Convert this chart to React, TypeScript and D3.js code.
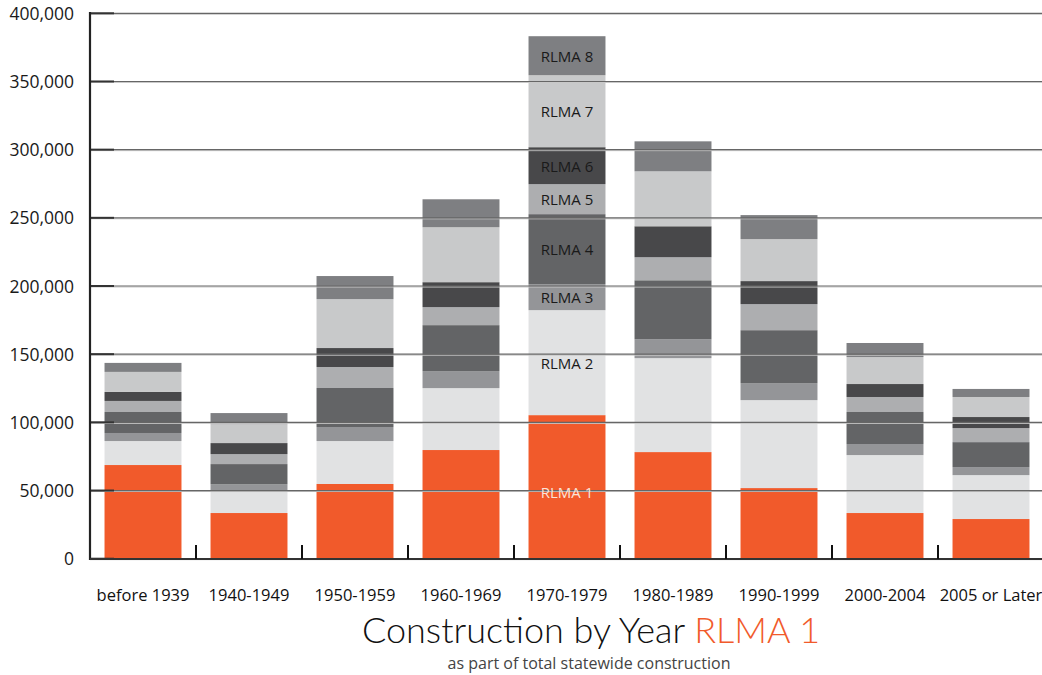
import React from "react";
import * as d3 from "d3";

const categories = ["before 1939", "1940-1949", "1950-1959", "1960-1969", "1970-1979", "1980-1989", "1990-1999", "2000-2004", "2005 or Later"];
const seriesNames = ["RLMA 1", "RLMA 2", "RLMA 3", "RLMA 4", "RLMA 5", "RLMA 6", "RLMA 7", "RLMA 8"];
const rlma1 = [68700, 33500, 54800, 79700, 105300, 78200, 51800, 33500, 29100];
const rlma2 = [17600, 16100, 31500, 45400, 77000, 68900, 64500, 42500, 32200];
const rlma3 = [5900, 5100, 10300, 12500, 19100, 13900, 12500, 8100, 5900];
const rlma4 = [15400, 14700, 28600, 33700, 51300, 43200, 38800, 23500, 18300];
const rlma5 = [8100, 7300, 15400, 13200, 22000, 16900, 19100, 11000, 10300];
const rlma6 = [6600, 8100, 13900, 18300, 27100, 22700, 16900, 9500, 8100];
const rlma7 = [14700, 13900, 35900, 40300, 52800, 40300, 30800, 19800, 14700];
const rlma8 = [6600, 8100, 16900, 20500, 28600, 22000, 17600, 10300, 5900];
const yTicks = [0, 50000, 100000, 150000, 200000, 250000, 300000, 350000, 400000];
const labeledCategory = "1970-1979";

const colors = ["#F15A2B", "#E1E2E3", "#949598", "#636466", "#ADAEB0", "#48484A", "#C8C9CA", "#7E7F82"];

export default function App() {
  const W = 1042, H = 675;
  const series = [rlma1, rlma2, rlma3, rlma4, rlma5, rlma6, rlma7, rlma8];
  const table = categories.map((c, i) => {
    const row: any = { cat: c };
    seriesNames.forEach((s, k) => (row[s] = series[k][i]));
    return row;
  });
  const stacked = d3.stack().keys(seriesNames)(table);
  const x = d3.scaleBand().domain(categories).range([90, 1044]).paddingInner(0.274).paddingOuter(0.137);
  const y = d3.scaleLinear().domain([0, 400000]).range([558.7, 13.3]);
  const fmt = d3.format(",");
  const step = x.step();
  const font = "'Open Sans', 'Noto Sans', sans-serif";

  return (
    <svg width={W} height={H} style={{ position: "absolute", left: 0, top: 0, background: "#fff" }}>
      {stacked.map((layer, k) => (
        <g key={layer.key} fill={colors[k]}>
          {layer.map((d: any, i: number) => (
            <rect key={i} x={x(categories[i])} width={x.bandwidth()} y={y(d[1])} height={y(d[0]) - y(d[1])} />
          ))}
        </g>
      ))}
      {yTicks.map((t) => (
        <g key={t}>
          <line x1={90} x2={W} y1={y(t) + 1} y2={y(t) + 1} stroke="#c8c8c8" strokeWidth={1} />
          <line x1={90} x2={W} y1={y(t)} y2={y(t)} stroke="#666" strokeWidth={1.2} />
          <line x1={90} x2={114} y1={y(t)} y2={y(t)} stroke="#333" strokeWidth={2} />
          <text x={74} y={y(t) + 6.5} textAnchor="end" fontFamily={font} fontSize={17.5} fill="#1a1a1a">{fmt(t)}</text>
        </g>
      ))}
      <line x1={90} x2={90} y1={12} y2={560} stroke="#222" strokeWidth={2.2} />
      <line x1={90} x2={W} y1={559} y2={559} stroke="#333" strokeWidth={2} />
      {categories.slice(1).map((c) => (
        <line key={c} x1={(x(c) as number) - (step - x.bandwidth()) / 2} x2={(x(c) as number) - (step - x.bandwidth()) / 2} y1={545} y2={559} stroke="#111" strokeWidth={2} />
      ))}
      {categories.map((c) => (
        <text key={c} x={(x(c) as number) + x.bandwidth() / 2} y={601} textAnchor="middle" fontFamily={font} fontSize={16.5} fill="#111">{c}</text>
      ))}
      {stacked.map((layer, k) => {
        const i = categories.indexOf(labeledCategory);
        const d: any = layer[i];
        const cy = (y(d[0]) + y(d[1])) / 2 + (k === 0 ? 11 : 6);
        return (
          <text key={layer.key} x={(x(labeledCategory) as number) + x.bandwidth() / 2} y={cy} textAnchor="middle" fontFamily={font} fontSize={15} fill={k === 0 ? "#FBE3D8" : "#1a1a1a"}>{layer.key}</text>
        );
      })}
      <text x={591} y={643} textAnchor="middle" fontFamily="Lato, 'Open Sans', sans-serif" fontWeight={300} fontSize={36} fill="#111">
        Construction by Year <tspan fill="#F15A2B">RLMA 1</tspan>
      </text>
      <text x={589} y={669} textAnchor="middle" fontFamily={font} fontSize={16} fill="#444">as part of total statewide construction</text>
    </svg>
  );
}
